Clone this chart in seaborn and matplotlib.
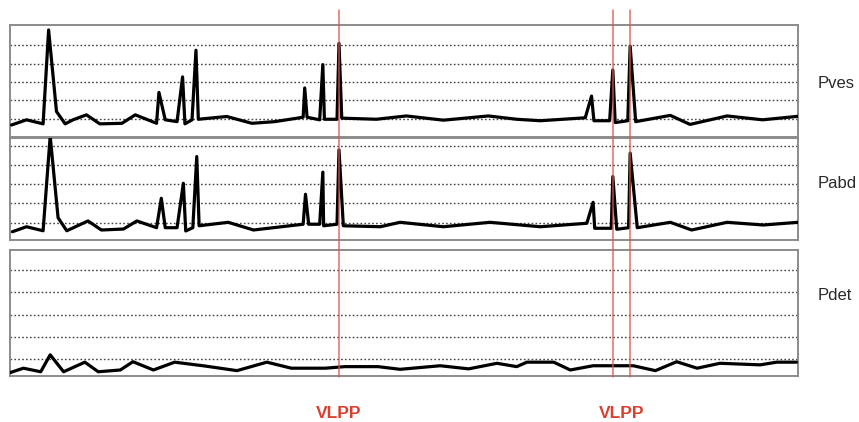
import matplotlib
matplotlib.use("Agg")
import matplotlib.pyplot as plt
import matplotlib.transforms as mtransforms
from matplotlib.lines import Line2D
import numpy as np
import pandas as pd
import seaborn as sns

# Urodynamic tracing: vesical, abdominal and detrusor pressure (cmH2O) over time (s)
pves_t = [0.2, 2.1, 4.2, 4.9, 5.9, 7.0, 8.0, 9.7, 11.4, 14.2, 15.9, 18.6, 18.9, 19.7,
          21.2, 21.9, 22.2, 23.1, 23.6, 23.9, 27.5, 30.7, 33.6, 37.2, 37.4, 37.7, 39.3,
          39.7, 39.9, 41.5, 41.75, 42.1, 46.5, 50.3, 55.0, 60.7, 64.3, 67.3, 73.0, 73.8,
          74.1, 76.1, 76.5, 76.8, 78.4, 78.7, 79.4, 83.8, 86.3, 91.0, 95.5, 100.0]
pves_v = [6.7, 9.5, 7.3, 58.3, 14.0, 7.3, 9.5, 12.2, 7.3, 7.6, 12.2, 7.6, 24.4, 9.5,
          8.5, 32.8, 7.3, 9.5, 47.3, 9.8, 11.3, 7.6, 8.5, 10.9, 26.8, 10.9, 9.5,
          39.5, 9.8, 9.8, 51.0, 10.4, 9.8, 11.6, 9.3, 11.6, 9.8, 9.0, 10.6, 22.4,
          9.0, 9.0, 36.6, 8.0, 9.0, 49.5, 8.5, 11.9, 7.0, 11.6, 9.5, 11.4]

pabd_t = [0.3, 2.1, 4.2, 5.1, 6.1, 7.2, 9.9, 11.6, 14.4, 16.1, 18.6, 19.2, 19.7, 21.2,
          22.0, 22.3, 23.2, 23.7, 24.0, 27.7, 30.9, 37.2, 37.5, 37.9, 39.3, 39.7, 39.8,
          41.5, 41.75, 42.3, 47.0, 49.5, 55.0, 60.9, 67.3, 73.2, 74.0, 74.2, 76.3, 76.5,
          77.0, 78.5, 78.7, 79.6, 83.8, 86.5, 91.0, 95.6, 100.0]
pabd_v = [5.3, 7.9, 5.8, 55.0, 12.6, 5.8, 10.9, 6.2, 6.7, 10.9, 7.4, 22.7, 7.4, 7.4,
          30.5, 5.7, 7.4, 44.4, 8.4, 10.2, 6.2, 9.2, 24.8, 9.2, 9.2, 36.3, 8.4,
          9.2, 47.9, 8.4, 7.9, 10.2, 7.9, 10.2, 7.9, 9.7, 20.6, 7.1, 7.1, 34.0,
          6.6, 7.4, 46.2, 7.4, 10.2, 6.2, 10.2, 8.8, 10.2]

pdet_t = [0.0, 1.7, 3.9, 5.1, 6.8, 9.5, 11.2, 14.0, 15.6, 18.2, 20.9, 24.7, 28.8, 32.6,
          35.7, 40.0, 42.5, 46.7, 49.5, 54.6, 58.2, 61.8, 64.3, 65.6, 69.0, 71.1, 74.0,
          79.1, 81.9, 84.6, 87.2, 90.1, 95.2, 97.3, 99.8]
pdet_v = [4.0, 6.0, 4.4, 12.0, 4.4, 8.7, 4.4, 5.2, 8.9, 5.2, 8.7, 7.0, 4.9, 8.7,
          6.0, 6.0, 6.7, 6.7, 5.5, 7.1, 5.7, 8.2, 6.7, 8.7, 8.7, 5.2, 7.1,
          7.1, 4.9, 8.9, 6.0, 8.2, 7.5, 8.7, 8.7]

# Valsalva leak point pressure events (s)
vlpp_times = [41.75, 76.5, 78.7]
vlpp_label_groups = [[41.75], [76.5, 78.7]]

channel_names = ["Pves", "Pabd", "Pdet"]
grid_levels = [10, 20, 30, 40, 50]

sns.set_theme(style="white")
plt.rcParams["font.family"] = ["Liberation Sans", "DejaVu Sans"]

W, H = 859, 422
fig = plt.figure(figsize=(W / 100, H / 100), dpi=100)
fig.patch.set_facecolor("white")

# panel boxes in pixel space: (top, bottom), plus y-limits
left_px, right_px = 10, 798
panels = [
    ((25, 137.3), (0, 61.0), pves_t, pves_v),
    ((137.7, 240), (1.0, 54.2), pabd_t, pabd_v),
    ((250, 376), (2.5, 59.0), pdet_t, pdet_v),
]
label_y_px = [83, 183, 295]

axes = []
for (top, bot), ylim, t, v in panels:
    ax = fig.add_axes([left_px / W, (H - bot) / H, (right_px - left_px) / W, (bot - top) / H])
    df = pd.DataFrame({"t": t, "p": v})
    for g in grid_levels:
        ax.axhline(g, color="#4a4444", lw=1.0, ls=(0, (1.2, 1.6)), zorder=1)
    sns.lineplot(data=df, x="t", y="p", ax=ax, color="black", lw=2.3,
                 sort=False, zorder=3, estimator=None)
    ax.set_xlim(0, 100)
    ax.set_ylim(*ylim)
    ax.set_xticks([])
    ax.set_yticks([])
    ax.set_xlabel("")
    ax.set_ylabel("")
    ax.set_facecolor("white")
    for s in ax.spines.values():
        s.set_visible(True)
        s.set_color("#8c8c8c")
        s.set_linewidth(1.4)
    axes.append(ax)

for name, ypx in zip(channel_names, label_y_px):
    fig.text(818 / W, (H - ypx) / H, name, fontsize=12, color="#2a2a2a",
             ha="left", va="center")

# VLPP markers spanning all channels
trans = mtransforms.blended_transform_factory(axes[0].transData, fig.transFigure)
for tv in vlpp_times:
    fig.add_artist(Line2D([tv, tv], [(H - 10) / H, (H - 377) / H], transform=trans,
                          color="#e2544c", lw=1.1, alpha=0.85, zorder=5))
for grp in vlpp_label_groups:
    fig.text(float(np.mean(grp)), (H - 413) / H, "VLPP", transform=trans,
             fontsize=12.5, fontweight="bold", color="#d9402f", ha="center", va="center")

fig.savefig("out.png", dpi=100, facecolor="white")
